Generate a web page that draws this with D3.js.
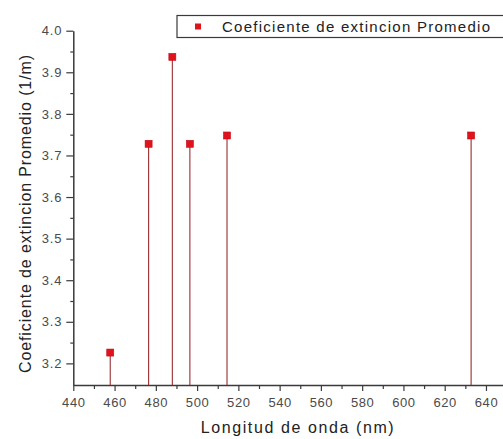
<!DOCTYPE html>
<html>
<head>
<meta charset="utf-8">
<script src="https://cdn.jsdelivr.net/npm/d3@7"></script>
<style>
  html, body { margin: 0; padding: 0; background: #fff; }
  svg { display: block; font-family: Arial, "Liberation Sans", sans-serif; }
</style>
</head>
<body>
<svg id="chart" width="503" height="439"></svg>
<script>
// Wavelengths (nm) and mean extinction coefficient (1/m)
const wavelengths = [457.9, 476.5, 488.0, 496.5, 514.5, 632.8];
const coefficients = [3.226, 3.728, 3.937, 3.728, 3.748, 3.748];

const xTickValues = [440, 460, 480, 500, 520, 540, 560, 580, 600, 620, 640];
const xMinorValues = [450, 470, 490, 510, 530, 550, 570, 590, 610, 630, 650];
const yTickValues = [3.2, 3.3, 3.4, 3.5, 3.6, 3.7, 3.8, 3.9, 4.0];
const yMinorValues = [3.25, 3.35, 3.45, 3.55, 3.65, 3.75, 3.85, 3.95];

const seriesName = "Coeficiente de extincion Promedio";
const xTitle = "Longitud de onda (nm)";
const yTitle = "Coeficiente de extincion Promedio (1/m)";

const svg = d3.select("#chart");

const x = d3.scaleLinear().domain([440, 650]).range([73.3, 506.6]);
const y = d3.scaleLinear().domain([3.148, 4.0]).range([385, 30.7]);

const axisColor = "#3a3a3a";
const labelColor = "#4a4a4a";

// X axis: major ticks with labels, minor ticks in between
const xAxis = svg.append("g")
  .attr("transform", `translate(0,${y.range()[0]})`)
  .call(d3.axisBottom(x).tickValues(xTickValues).tickSize(6).tickSizeOuter(0)
    .tickPadding(7).tickFormat(d3.format("d")));
xAxis.select(".domain").attr("stroke", axisColor).attr("stroke-width", 1.5);
xAxis.selectAll(".tick line").attr("stroke", axisColor).attr("stroke-width", 1.2);
xAxis.selectAll(".tick text")
  .attr("fill", labelColor).style("font-size", "13px").style("letter-spacing", "0.6px");

const xMinor = svg.append("g")
  .attr("transform", `translate(0,${y.range()[0]})`)
  .call(d3.axisBottom(x).tickValues(xMinorValues).tickSize(4).tickSizeOuter(0).tickFormat(""));
xMinor.select(".domain").remove();
xMinor.selectAll(".tick line").attr("stroke", axisColor).attr("stroke-width", 1.2);

// Y axis
const yAxis = svg.append("g")
  .attr("transform", `translate(${x.range()[0]},0)`)
  .call(d3.axisLeft(y).tickValues(yTickValues).tickSize(7).tickSizeOuter(0)
    .tickPadding(4).tickFormat(d3.format(".1f")));
yAxis.select(".domain").attr("stroke", axisColor).attr("stroke-width", 1.5);
yAxis.selectAll(".tick line").attr("stroke", axisColor).attr("stroke-width", 1.2);
yAxis.selectAll(".tick text")
  .attr("fill", labelColor).style("font-size", "13px").style("letter-spacing", "0.8px");

const yMinor = svg.append("g")
  .attr("transform", `translate(${x.range()[0]},0)`)
  .call(d3.axisLeft(y).tickValues(yMinorValues).tickSize(3).tickSizeOuter(0).tickFormat(""));
yMinor.select(".domain").remove();
yMinor.selectAll(".tick line").attr("stroke", axisColor).attr("stroke-width", 1.2);

// Data: drop lines from each point to the baseline, then square markers
const pts = wavelengths.map((w, i) => ({ w, v: coefficients[i] }));

svg.append("g").selectAll("line")
  .data(pts).join("line")
  .attr("x1", d => x(d.w)).attr("x2", d => x(d.w))
  .attr("y1", d => y(d.v)).attr("y2", y.range()[0])
  .attr("stroke", "#9a2e30").attr("stroke-width", 1.1);

const m = 7;
svg.append("g").selectAll("rect")
  .data(pts).join("rect")
  .attr("x", d => x(d.w) - m / 2).attr("y", d => y(d.v) - m / 2)
  .attr("width", m).attr("height", m)
  .attr("fill", "#e0121c").attr("stroke", "#c40c16").attr("stroke-width", 0.6);

// Axis titles
svg.append("text")
  .attr("x", 200.7).attr("y", 433)
  .attr("textLength", 193).attr("lengthAdjust", "spacing")
  .attr("fill", "#222").style("font-size", "16px")
  .text(xTitle);

svg.append("text")
  .attr("transform", "translate(31,214) rotate(-90)")
  .attr("text-anchor", "middle")
  .attr("textLength", 318).attr("lengthAdjust", "spacing")
  .attr("fill", "#222").style("font-size", "16px")
  .text(yTitle);

// Legend
const legend = svg.append("g");
legend.append("rect")
  .attr("x", 177).attr("y", 15.5).attr("width", 340).attr("height", 22)
  .attr("fill", "#fff").attr("stroke", "#3a3a3a").attr("stroke-width", 1.2);
legend.append("rect")
  .attr("x", 198 - 3).attr("y", 26.5 - 3).attr("width", 6).attr("height", 6)
  .attr("fill", "#e0121c");
legend.append("text")
  .attr("x", 222).attr("y", 32)
  .attr("textLength", 268).attr("lengthAdjust", "spacing")
  .attr("fill", "#222").style("font-size", "15px")
  .text(seriesName);
</script>
</body>
</html>
